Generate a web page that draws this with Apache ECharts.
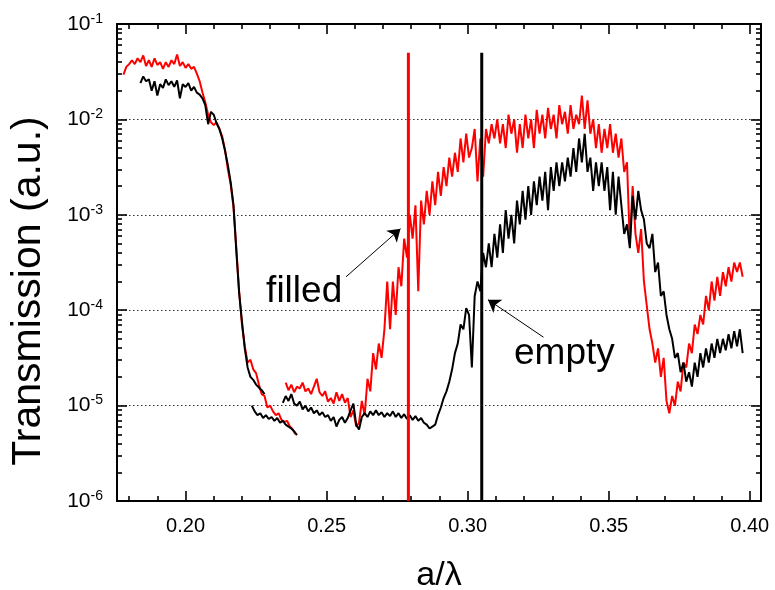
<!DOCTYPE html>
<html><head><meta charset="utf-8">
<script src="https://cdn.jsdelivr.net/npm/echarts@6/dist/echarts.min.js"></script>
<style>html,body{margin:0;padding:0;background:#fff}#c{width:775px;height:590px}</style>
</head><body><div id="c"></div>
<script>
// ---- axes ----
const X_MIN = 0.1757, X_MAX = 0.4040, Y_MIN = 1e-6, Y_MAX = 1e-1;
const xTickLabels = [0.20, 0.25, 0.30, 0.35, 0.40];
const xMinorTicks = [0.18,0.19,0.21,0.22,0.23,0.24,0.26,0.27,0.28,0.29,0.31,0.32,0.33,0.34,0.36,0.37,0.38,0.39];
const yDecades = [1e-6, 1e-5, 1e-4, 1e-3, 1e-2, 1e-1];
const yMinorMultipliers = [2,3,4,5,6,7,8,9];

// ---- data (sampled every 0.001 in a/lambda) ----
const STEP = 0.001;
const redScan1Start = 0.178;
const redScan1 = [2.95e-2,3.55e-2,3.80e-2,4.17e-2,3.80e-2,4.37e-2,3.98e-2,4.68e-2,3.63e-2,4.17e-2,
 3.55e-2,4.37e-2,3.72e-2,3.98e-2,3.39e-2,3.98e-2,3.55e-2,4.17e-2,3.80e-2,4.79e-2,
 3.63e-2,3.98e-2,3.47e-2,3.80e-2,3.39e-2,3.55e-2,3.02e-2,2.51e-2,1.91e-2,1.51e-2,
 1.12e-2,9.33e-3,8.71e-3,9.33e-3,7.94e-3,6.61e-3,4.79e-3,3.02e-3,2.09e-3,1.20e-3,
 4.47e-4,1.58e-4,7.08e-5,4.17e-5,2.82e-5,3.02e-5,2.40e-5,2.19e-5,1.66e-5,1.32e-5,
 1.26e-5,9.55e-6,1.0e-5,8.71e-6,7.94e-6,8.32e-6,7.08e-6,6.76e-6,6.92e-6,6.03e-6,
 5.62e-6,5.01e-6];
const redScan2Start = 0.2355;
const redScan2 = [1.74e-5,1.45e-5,1.66e-5,1.38e-5,1.58e-5,1.51e-5,1.74e-5,1.41e-5,1.51e-5,1.32e-5,
 1.58e-5,1.91e-5,1.38e-5,1.26e-5,1.41e-5,1.10e-5,1.20e-5,1.05e-5,1.38e-5,1.12e-5,
 1.32e-5,1.07e-5,1.20e-5,7.59e-6,8.91e-6,6.03e-6,6.61e-6,1.12e-5,7.94e-6,1.91e-5,
 1.41e-5,3.55e-5,2.40e-5,4.47e-5,3.16e-5,6.31e-5,2.00e-4,6.31e-5,2.00e-4,8.91e-5,
 2.82e-4,1.78e-4,5.62e-4,3.55e-4,1.0e-3,5.62e-4,1.26e-3,1.58e-4,1.41e-3,7.94e-4,
 1.78e-3,1.0e-3,2.24e-3,1.26e-3,2.82e-3,1.58e-3,3.16e-3,2.00e-3,3.98e-3,2.51e-3,
 4.47e-3,2.82e-3,6.31e-3,3.55e-3,7.08e-3,3.98e-3,5.01e-3,7.94e-3,2.24e-3,6.31e-3,
 2.51e-3,7.94e-3,5.62e-3,8.91e-3,6.31e-3,1.0e-2,5.62e-3,8.91e-3,5.01e-3,1.12e-2,
 7.08e-3,1.0e-2,4.47e-3,8.91e-3,5.01e-3,1.12e-2,6.31e-3,1.0e-2,5.01e-3,1.26e-2,
 7.08e-3,1.12e-2,6.31e-3,1.32e-2,7.94e-3,1.12e-2,6.31e-3,1.41e-2,8.91e-3,1.20e-2,
 7.08e-3,1.41e-2,7.94e-3,1.12e-2,8.91e-3,1.78e-2,7.94e-3,1.58e-2,7.08e-3,1.0e-2,
 5.01e-3,8.91e-3,4.47e-3,7.94e-3,5.01e-3,8.91e-3,4.47e-3,7.08e-3,3.98e-3,6.31e-3,
 2.82e-3,3.55e-3,5.01e-4,2.00e-3,6.31e-4,3.98e-4,7.08e-4,2.00e-4,1.12e-4,6.31e-5,
 4.47e-5,2.82e-5,3.98e-5,2.00e-5,3.16e-5,1.12e-5,8.32e-6,1.26e-5,1.0e-5,1.78e-5,
 1.41e-5,2.82e-5,2.51e-5,4.47e-5,3.55e-5,7.08e-5,5.62e-5,8.91e-5,7.08e-5,1.41e-4,
 1.0e-4,2.00e-4,1.26e-4,2.24e-4,1.41e-4,2.51e-4,1.78e-4,2.82e-4,2.00e-4,3.16e-4,
 2.51e-4,3.16e-4,2.24e-4];
const blackScan1Start = 0.184;
const blackScan1 = [2.40e-2,2.82e-2,2.51e-2,2.63e-2,2.00e-2,2.51e-2,1.78e-2,2.34e-2,2.14e-2,2.63e-2,
 2.29e-2,2.51e-2,2.19e-2,2.57e-2,1.66e-2,2.34e-2,2.19e-2,2.40e-2,2.00e-2,2.19e-2,
 1.91e-2,1.82e-2,1.66e-2,1.41e-2,8.91e-3,1.20e-2,1.12e-2,9.12e-3,7.94e-3,6.31e-3,
 4.68e-3,3.31e-3,2.19e-3,1.26e-3,4.17e-4,1.51e-4,7.59e-5,3.98e-5,2.51e-5,2.00e-5,
 1.86e-5,1.66e-5,1.55e-5,1.45e-5,1.32e-5];
const blackScan2Start = 0.2235;
const blackScan2 = [1.0e-5,8.71e-6,7.94e-6,8.32e-6,7.41e-6,7.94e-6,7.24e-6,7.59e-6,6.92e-6,7.41e-6,
 6.61e-6,6.92e-6,6.31e-6,6.03e-6,5.75e-6,5.37e-6,4.90e-6];
const blackScan3Start = 0.2345;
const blackScan3 = [1.07e-5,1.26e-5,1.12e-5,1.32e-5,1.05e-5,1.0e-5,1.10e-5,9.12e-6,1.0e-5,8.71e-6,
 9.55e-6,8.32e-6,8.91e-6,7.94e-6,8.51e-6,7.59e-6,7.94e-6,6.92e-6,7.59e-6,6.03e-6,
 7.08e-6,7.59e-6,6.61e-6,7.41e-6,8.91e-6,1.05e-5,6.31e-6,5.62e-6,7.59e-6,8.32e-6,
 7.59e-6,8.71e-6,7.94e-6,8.91e-6,7.94e-6,8.51e-6,7.59e-6,8.32e-6,7.76e-6,8.71e-6,
 7.59e-6,8.32e-6,7.41e-6,8.13e-6,7.24e-6,7.94e-6,7.08e-6,7.76e-6,6.92e-6,7.41e-6,
 6.61e-6,6.31e-6,5.75e-6,6.03e-6,6.31e-6,7.94e-6,9.55e-6,1.20e-5,1.41e-5,1.78e-5,
 2.40e-5,3.55e-5,4.47e-5,7.08e-5,6.31e-5,1.05e-4,8.91e-5,2.51e-5,1.41e-4,2.00e-4,
 1.58e-4,3.98e-4,2.82e-4,5.01e-4,2.82e-4,6.31e-4,3.55e-4,7.94e-4,3.98e-4,1.12e-3,
 5.62e-4,1.0e-3,5.01e-4,1.41e-3,7.94e-4,1.78e-3,8.91e-4,2.00e-3,1.0e-3,2.24e-3,
 1.26e-3,2.51e-3,1.41e-3,2.82e-3,1.12e-3,3.16e-3,1.78e-3,3.55e-3,2.00e-3,3.55e-3,
 2.24e-3,3.98e-3,2.51e-3,5.01e-3,2.82e-3,6.31e-3,3.55e-3,7.08e-3,2.82e-3,3.98e-3,
 1.78e-3,3.55e-3,2.00e-3,3.55e-3,1.78e-3,3.16e-3,1.12e-3,2.82e-3,1.0e-3,2.51e-3,
 1.26e-3,6.31e-4,7.94e-4,4.47e-4,1.58e-3,8.91e-4,1.78e-3,1.12e-3,8.91e-4,5.01e-4,
 4.47e-4,6.31e-4,2.51e-4,3.16e-4,1.41e-4,1.58e-4,8.91e-5,6.31e-5,5.01e-5,3.16e-5,
 3.55e-5,2.24e-5,2.82e-5,1.78e-5,2.24e-5,1.58e-5,2.82e-5,2.00e-5,3.55e-5,2.51e-5,
 3.98e-5,2.82e-5,4.47e-5,3.16e-5,5.01e-5,3.55e-5,5.01e-5,3.80e-5,5.62e-5,3.98e-5,
 6.03e-5,4.17e-5,6.31e-5,3.55e-5];
// narrow spikes (vertical lines) in each spectrum
const redSpikeX = 0.279, blackSpikeX = 0.305, spikeTop = 0.05;
// annotations
const annotationTexts = ['filled', 'empty'];
const annotationPos = [[0.24205, 1.56e-4], [0.3343, 3.50e-5]];
const arrowFrom = [[0.2569, 2.24e-4], [0.3269, 5.21e-5]];
const arrowTo = [[0.2762, 7.14e-4], [0.3072, 1.29e-4]];

const FONT = '"Liberation Sans", Arial, Helvetica, sans-serif';
const GRID = { left: 117, top: 24, width: 644, height: 477 };

function scan(start, values) {
  return values.map((v, i) => [+(start + i * STEP).toFixed(4), v]);
}
const yMinorTicks = [];
yDecades.slice(0, -1).forEach(d => yMinorMultipliers.forEach(k => yMinorTicks.push(+(k * d).toPrecision(3))));

// inward tick marks, converted from pixel length to the axes' own units
const MAJOR = 10, MINOR = 5;
const decadesPerPx = Math.log10(Y_MAX / Y_MIN) / GRID.height;
const xUnitsPerPx = (X_MAX - X_MIN) / GRID.width;
const tickSegments = [];
function xTick(v, len) {
  const f = Math.pow(10, len * decadesPerPx);
  tickSegments.push([[v, Y_MIN], [v, Y_MIN * f]]);
  tickSegments.push([[v, Y_MAX], [v, Y_MAX / f]]);
}
function yTick(v, len) {
  const dx = len * xUnitsPerPx;
  tickSegments.push([[X_MIN, v], [X_MIN + dx, v]]);
  tickSegments.push([[X_MAX, v], [X_MAX - dx, v]]);
}
xTickLabels.forEach(v => xTick(v, MAJOR));
xMinorTicks.forEach(v => xTick(v, MINOR));
yDecades.forEach(v => yTick(v, MAJOR));
yMinorTicks.forEach(v => yTick(v, MINOR));

const AXLINE = { show: true, onZero: false, lineStyle: { color: '#000', width: 2 } };
function xAx(pos) {
  return { type: 'value', min: X_MIN, max: X_MAX, position: pos,
    axisLine: AXLINE, axisTick: { show: false }, splitLine: { show: false },
    axisLabel: pos === 'bottom' ? { show: true, customValues: xTickLabels, margin: 15, color: '#000',
        fontSize: 20, fontFamily: FONT, formatter: v => v.toFixed(2) } : { show: false } };
}
function yAx(pos) {
  const ax = { type: 'log', logBase: 10, min: Y_MIN, max: Y_MAX, position: pos, splitNumber: 5,
    axisLine: AXLINE, axisTick: { show: false }, splitLine: { show: false }, axisLabel: { show: false } };
  if (pos === 'left') {
    ax.splitLine = { show: true, lineStyle: { color: '#333', width: 1, type: [1.5, 2.5] } };
    ax.axisLabel = { show: true, margin: 14, showMinLabel: true, showMaxLabel: true,
      formatter: v => '{a|10}{b|' + Math.round(Math.log10(v)) + '}',
      rich: {
        a: { fontSize: 21, fontFamily: FONT, color: '#000', lineHeight: 24 },
        b: { fontSize: 14, fontFamily: FONT, color: '#000', lineHeight: 12, verticalAlign: 'top' }
      } };
  }
  return ax;
}

const RED = '#ff0000', BLACK = '#000000';
function lineSeries(name, data, color, width) {
  return { type: 'line', name: name, data: data, showSymbol: false, symbol: 'none',
    lineStyle: { color: color, width: width }, itemStyle: { color: color } };
}

const blackSpike = lineSeries('blackSpike', [[blackSpikeX, Y_MIN], [blackSpikeX, spikeTop]], BLACK, 3);
blackSpike.markLine = { symbol: ['none', 'arrow'], symbolSize: 12,
  itemStyle: { color: '#000' }, lineStyle: { color: '#000', width: 1, type: 'solid' }, label: { show: false },
  data: arrowFrom.map((p, i) => [{ coord: p }, { coord: arrowTo[i] }]) };
blackSpike.markPoint = { symbol: 'circle', symbolSize: 1, itemStyle: { color: 'rgba(0,0,0,0)' },
  label: { show: true, position: 'inside', color: '#000', fontSize: 37, fontFamily: FONT, formatter: p => p.name },
  data: annotationTexts.map((t, i) => ({ name: t, coord: annotationPos[i] })) };

// tick series: an invisible carrier whose markLine draws every tick segment
const tickSeries = { type: 'line', name: 'ticks', data: [], showSymbol: false, symbol: 'none', z: 20,
  markLine: { symbol: ['none', 'none'], silent: true, label: { show: false },
    lineStyle: { color: '#000', width: 1.6, type: 'solid' }, emphasis: { disabled: true },
    data: tickSegments.map(s => [{ coord: s[0] }, { coord: s[1] }]) } };

const chart = echarts.init(document.getElementById('c'));
chart.setOption({
  animation: false,
  grid: GRID,
  xAxis: [xAx('bottom'), xAx('top')],
  yAxis: [yAx('left'), yAx('right')],
  graphic: [
    { type: 'text', x: 29, y: 291, rotation: Math.PI / 2,
      style: { text: 'Transmission (a.u.)', fontSize: 41, fontFamily: FONT, fill: '#000',
        align: 'center', verticalAlign: 'middle' } },
    { type: 'text', x: 439, y: 576,
      style: { text: 'a/λ', fontSize: 34, fontFamily: FONT, fill: '#000',
        align: 'center', verticalAlign: 'middle' } }
  ],
  series: [
    lineSeries('filled', scan(redScan1Start, redScan1), RED, 2),
    lineSeries('filled2', scan(redScan2Start, redScan2), RED, 2),
    lineSeries('empty', scan(blackScan1Start, blackScan1), BLACK, 2),
    lineSeries('empty2', scan(blackScan2Start, blackScan2), BLACK, 2),
    lineSeries('empty3', scan(blackScan3Start, blackScan3), BLACK, 2),
    lineSeries('redSpike', [[redSpikeX, Y_MIN], [redSpikeX, spikeTop]], RED, 3),
    blackSpike,
    tickSeries
  ]
});
</script>
</body></html>
